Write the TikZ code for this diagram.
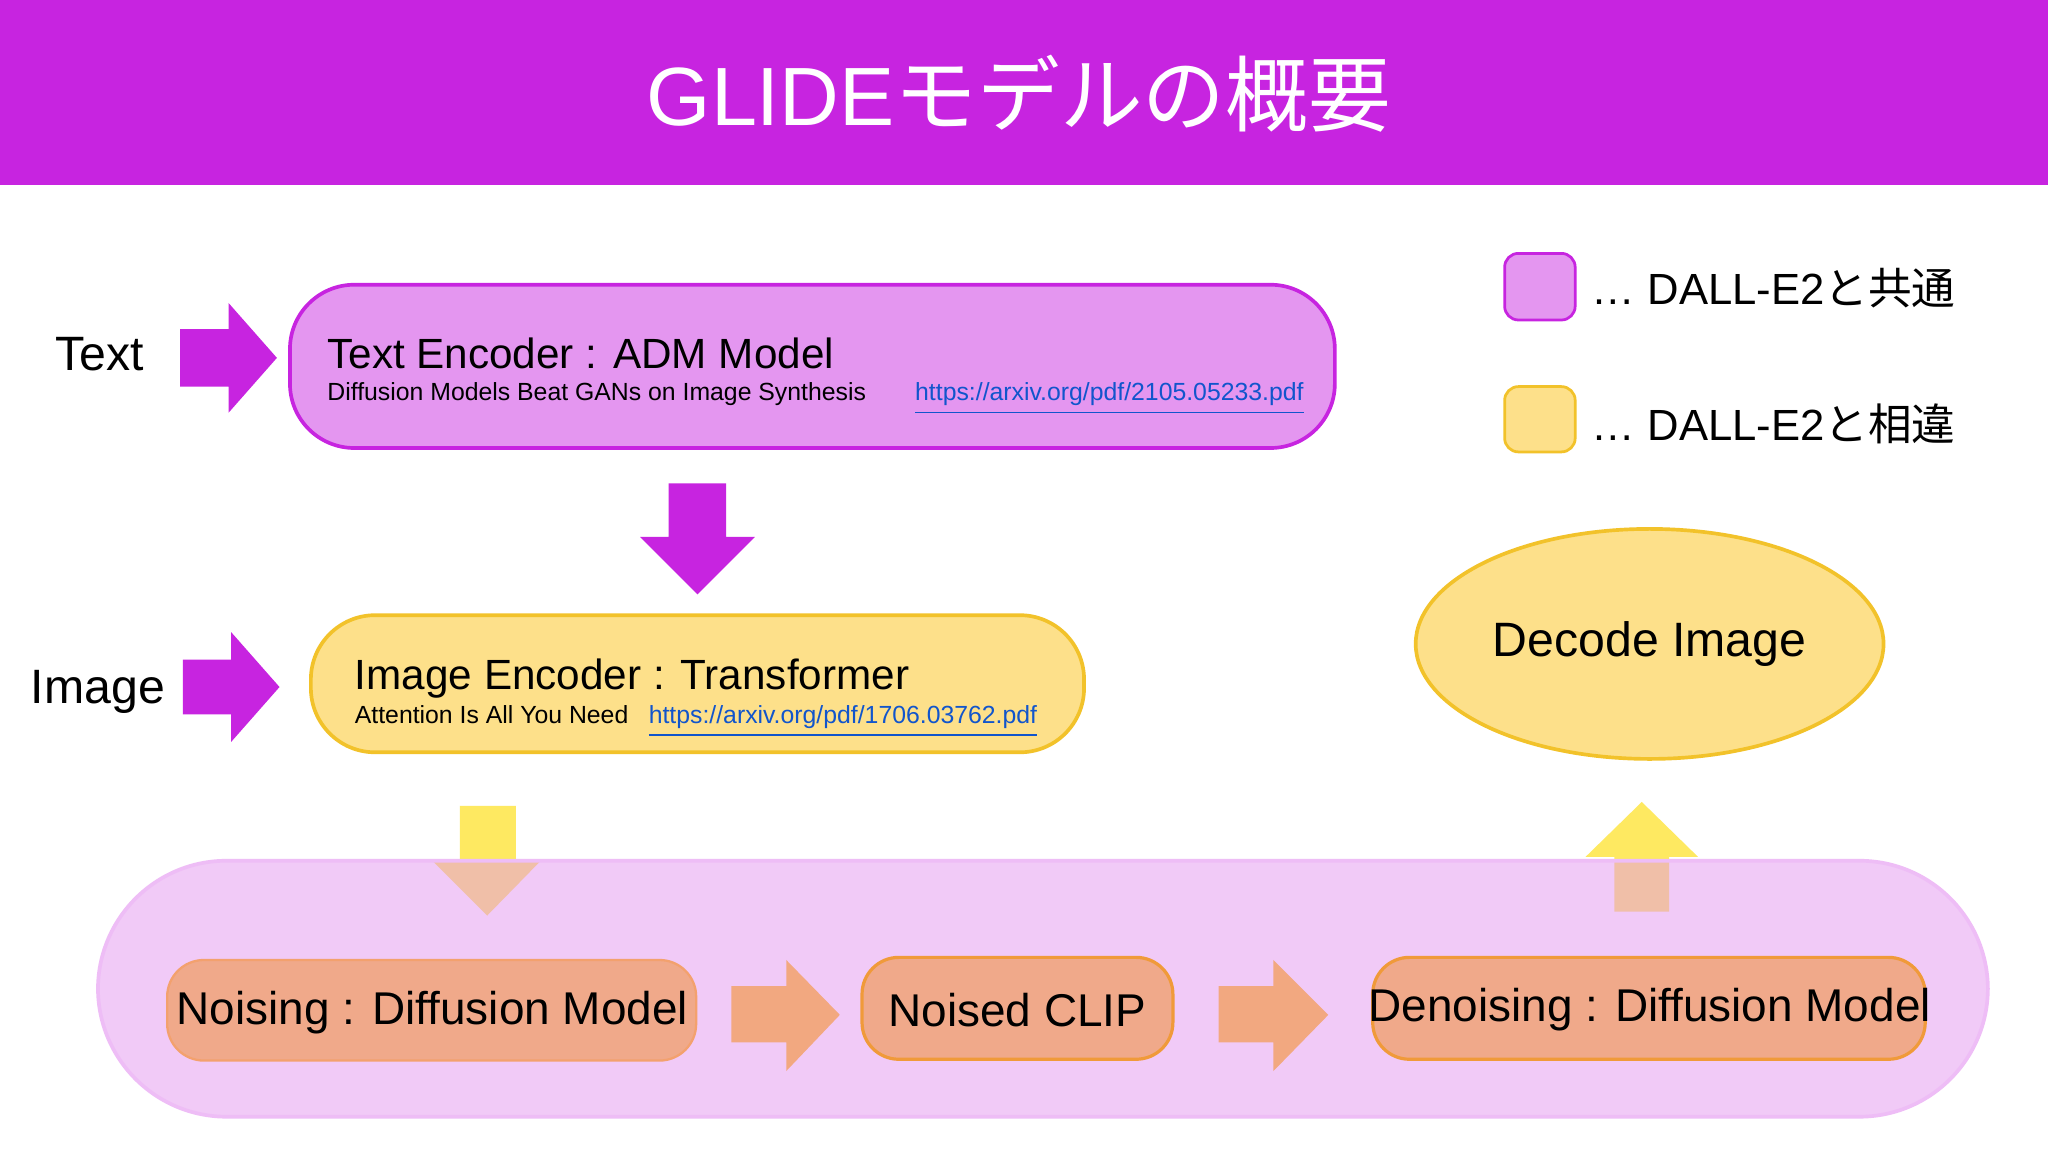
\documentclass[tikz,border=0pt]{standalone}
\usepackage{fontspec}
\setmainfont{Liberation Sans}
\newfontfamily\cjk{Noto Sans CJK JP}
\usetikzlibrary{shapes.geometric}
\definecolor{glmag}{HTML}{C724E0}
\definecolor{glpink}{HTML}{E496F0}
\definecolor{glyel}{HTML}{FDE08A}
\definecolor{glyelb}{HTML}{F2C22A}
\definecolor{glsal}{HTML}{F0A98A}
\definecolor{glorb}{HTML}{F09A3A}
\definecolor{glarr}{HTML}{F2A880}
\definecolor{gllink}{HTML}{1155CC}
\newcommand{\fs}[1]{\fontsize{#1}{1.2\dimexpr#1\relax}\selectfont}
\tikzset{
  box/.style={rounded corners=14pt, line width=0.8pt, anchor=north west, inner sep=0pt},
  lbl/.style={anchor=base west, inner sep=0pt},
}
\begin{document}
\begin{tikzpicture}[x=0.01cm,y=-0.01cm]
\useasboundingbox (0,0) rectangle (1568,882);
\fill[white] (0,0) rectangle (1568,882);
% header
\fill[glmag] (0,0) rectangle (1568,142);
\node[text=white] (title) at (780,72) {\fs{18pt}GLIDE\cjk モデルの概要};

% legend
\draw[glmag, fill=glpink, rounded corners=3pt, line width=0.6pt] (1152,194) rectangle (1206,245);
\node[lbl] (lg1) at (1218,233) {\fs{9.5pt}… DALL-E2\cjk と共通};
\draw[glyelb, fill=glyel, rounded corners=3pt, line width=0.6pt] (1152,296) rectangle (1206,346);
\node[lbl] (lg2) at (1218,337) {\fs{9.5pt}… DALL-E2\cjk と相違};

% text encoder
\draw[glmag, fill=glpink, rounded corners=14pt, line width=0.8pt] (222,218) rectangle (1022,343);
\node[lbl] (te) at (250,282) {\fs{9.2pt}Text Encoder : ADM Model};
\node[lbl] (tes) at (250,307) {\fs{5.4pt}Diffusion Models Beat GANs on Image Synthesis};
\node[lbl, text=gllink] (tel) at (700,307) {\fs{5.4pt}\underline{https://arxiv.org/pdf/2105.05233.pdf}};
\node (tlab) at (76,271) {\fs{10.5pt}Text};
\fill[glmag] (138,252) -- (175,252) -- (175,232) -- (212,274) -- (175,316) -- (175,296) -- (138,296) -- cycle;
% down arrow
\fill[glmag] (512,370) -- (556,370) -- (556,411) -- (578,411) -- (534,455) -- (490,411) -- (512,411) -- cycle;

% image encoder
\draw[glyelb, fill=glyel, rounded corners=14pt, line width=0.8pt] (238,471) rectangle (830,576);
\node[lbl] (ie) at (271,528) {\fs{9.2pt}Image Encoder : Transformer};
\node[lbl] (ies) at (271,554) {\fs{5.4pt}Attention Is All You Need};
\node[lbl, text=gllink] (iel) at (496,554) {\fs{5.4pt}\underline{https://arxiv.org/pdf/1706.03762.pdf}};
\node (ilab) at (75,530) {\fs{10.5pt}Image};
\fill[glmag] (140,505) -- (177,505) -- (177,484) -- (214,526) -- (177,568) -- (177,547) -- (140,547) -- cycle;

% decode ellipse
\node[ellipse, draw=glyelb, fill=glyel, line width=0.8pt, minimum width=358\pgflinewidth, inner sep=0pt,
  minimum width=3.58cm, minimum height=1.76cm] (dec) at (1263,493) {\fs{10.5pt}Decode Image};

% yellow arrows (behind panel)
\fill[glyel!70!yellow] (352,617) -- (395,617) -- (395,658) -- (415,658) -- (373,701) -- (330,658) -- (352,658) -- cycle;
\fill[glyel!70!yellow] (1236,698) -- (1278,698) -- (1278,656) -- (1300,656) -- (1257,614) -- (1214,656) -- (1236,656) -- cycle;

% panel
\draw[glmag!30, fill=glpink, fill opacity=0.5, rounded corners=28pt, line width=0.8pt] (75,659) rectangle (1522,855);

% bottom boxes
\draw[glsal!80!orange, fill=glsal, rounded corners=8pt, line width=0.5pt] (128,735) rectangle (533,812);
\node (nz) at (331,775) {\fs{10pt}Noising : Diffusion Model};
\draw[glorb, fill=glsal, rounded corners=8pt, line width=0.7pt] (660,733) rectangle (898,811);
\node (nc) at (779,773) {\fs{10pt}Noised CLIP};
\draw[glorb, fill=glsal, rounded corners=8pt, line width=0.7pt] (1051,733) rectangle (1474,811);
\node (dn) at (1263,773) {\fs{10pt}Denoising : Diffusion Model};
\fill[glarr] (560,755) -- (602,755) -- (602,735) -- (643,777) -- (602,820) -- (602,798) -- (560,798) -- cycle;
\fill[glarr] (933,755) -- (975,755) -- (975,735) -- (1017,777) -- (975,820) -- (975,798) -- (933,798) -- cycle;
\end{tikzpicture}
\end{document}
